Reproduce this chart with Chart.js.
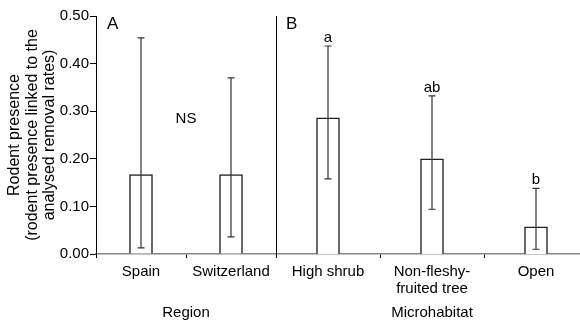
<!DOCTYPE html>
<html><head><meta charset="utf-8">
<script src="https://cdn.jsdelivr.net/npm/chart.js@4.4.1/dist/chart.umd.min.js"></script>
<style>
html,body{margin:0;padding:0;background:#fff;overflow:hidden}
#wrap{position:relative;width:580px;height:322px;overflow:hidden;background:#fff}
#ca{position:absolute;left:0;top:0}
#cb{position:absolute;left:275px;top:0}
</style></head><body>
<div id="wrap"><canvas id="ca" width="276" height="322"></canvas><canvas id="cb" width="313" height="322"></canvas></div>
<script>
// ---- data ----
const regionCategories = ['Spain', 'Switzerland'];
const regionMeans = [0.167, 0.167];
const regionUpper = [0.454, 0.370];
const regionLower = [0.013, 0.036];

const habitatCategories = ['High shrub', ['Non-fleshy-', 'fruited tree'], 'Open'];
const habitatMeans = [0.286, 0.200, 0.057];
const habitatUpper = [0.437, 0.332, 0.138];
const habitatLower = [0.158, 0.094, 0.010];
const habitatLetters = ['a', 'ab', 'b'];

const yMin = 0, yMax = 0.5, yStep = 0.1;
const yTitle = ['Rodent presence', '(rodent presence linked to the', 'analysed removal rates)'];

// ---- style ----
const FONT = "'Liberation Sans', Arial, Helvetica, sans-serif";
Chart.defaults.font.family = FONT;
Chart.defaults.font.size = 15;
Chart.defaults.color = '#000';

const errorBars = {
  id: 'errorBars',
  afterDatasetsDraw(chart, args, opts) {
    const ctx = chart.ctx, y = chart.scales.y, meta = chart.getDatasetMeta(0);
    ctx.save();
    ctx.strokeStyle = '#333';
    ctx.lineWidth = 1.2;
    meta.data.forEach((bar, i) => {
      const x = bar.x;
      const yu = y.getPixelForValue(opts.upper[i]);
      const yl = y.getPixelForValue(opts.lower[i]);
      ctx.beginPath();
      ctx.moveTo(x, yu); ctx.lineTo(x, yl);
      ctx.moveTo(x - 3.5, yu); ctx.lineTo(x + 3.5, yu);
      ctx.moveTo(x - 3.5, yl); ctx.lineTo(x + 3.5, yl);
      ctx.stroke();
      if (opts.letters) {
        ctx.fillStyle = '#000';
        ctx.font = '15px ' + FONT;
        ctx.textAlign = 'center';
        ctx.textBaseline = 'alphabetic';
        ctx.fillText(opts.letters[i], x, yu - 4);
      }
    });
    // panel letter
    ctx.fillStyle = '#000';
    ctx.font = '17px ' + FONT;
    ctx.textAlign = 'left';
    ctx.textBaseline = 'alphabetic';
    ctx.fillText(opts.panel, chart.chartArea.left + opts.panelDx, chart.chartArea.top + 13);
    if (opts.ns) {
      const xs = chart.scales.x;
      const xm = (xs.getPixelForValue(0) + xs.getPixelForValue(1)) / 2;
      ctx.font = '15px ' + FONT;
      ctx.textAlign = 'center';
      ctx.fillText(opts.ns, xm, y.getPixelForValue(0.275));
    }
    ctx.restore();
  }
};

function xScale(title) {
  return {
    type: 'category',
    offset: true,
    grid: { offset: true, drawOnChartArea: false, drawTicks: true, tickLength: 4, color: '#000' },
    border: { color: '#888', width: 1.5 },
    ticks: { padding: 5, maxRotation: 0, autoSkip: false, font: { size: 15, lineHeight: 1.15 } },
    title: { display: true, text: title, font: { size: 15, lineHeight: 1.2 }, padding: { top: 0, bottom: 0 } },
    afterFit(s) { s.height = 68; }
  };
}

function barDataset(values) {
  return {
    data: values,
    backgroundColor: '#fff',
    borderColor: '#222',
    borderWidth: 1.5,
    barThickness: 23,
    borderSkipped: 'bottom'
  };
}

new Chart(document.getElementById('ca'), {
  type: 'bar',
  data: { labels: regionCategories, datasets: [barDataset(regionMeans)] },
  options: {
    responsive: false, animation: false,
    layout: { padding: { top: 16, left: 0, right: 0, bottom: 0 } },
    plugins: {
      legend: { display: false }, tooltip: { enabled: false },
      errorBars: { upper: regionUpper, lower: regionLower, panel: 'A', panelDx: 11, ns: 'NS' }
    },
    scales: {
      x: xScale('Region'),
      y: {
        min: yMin, max: yMax,
        ticks: { stepSize: yStep, padding: 1, callback: v => Number(v).toFixed(2), font: { size: 15 } },
        grid: { drawOnChartArea: false, drawTicks: true, tickLength: 6, color: '#000' },
        border: { color: '#000', width: 1 },
        title: { display: true, text: yTitle, font: { size: 16, lineHeight: 1.1 }, padding: { top: 6, bottom: 0 } },
        afterFit(s) { s.width = 96; }
      }
    }
  },
  plugins: [errorBars]
});

new Chart(document.getElementById('cb'), {
  type: 'bar',
  data: { labels: habitatCategories, datasets: [barDataset(habitatMeans)] },
  options: {
    responsive: false, animation: false,
    layout: { padding: { top: 16, left: 0, right: 0, bottom: 0 } },
    plugins: {
      legend: { display: false }, tooltip: { enabled: false },
      errorBars: { upper: habitatUpper, lower: habitatLower, letters: habitatLetters, panel: 'B', panelDx: 10 }
    },
    scales: {
      x: xScale('Microhabitat'),
      y: {
        min: yMin, max: yMax,
        ticks: { display: false, stepSize: yStep },
        grid: { display: false },
        border: { color: '#000', width: 1 },
        afterFit(s) { s.width = 1; }
      }
    }
  },
  plugins: [errorBars]
});
</script>
</body></html>
